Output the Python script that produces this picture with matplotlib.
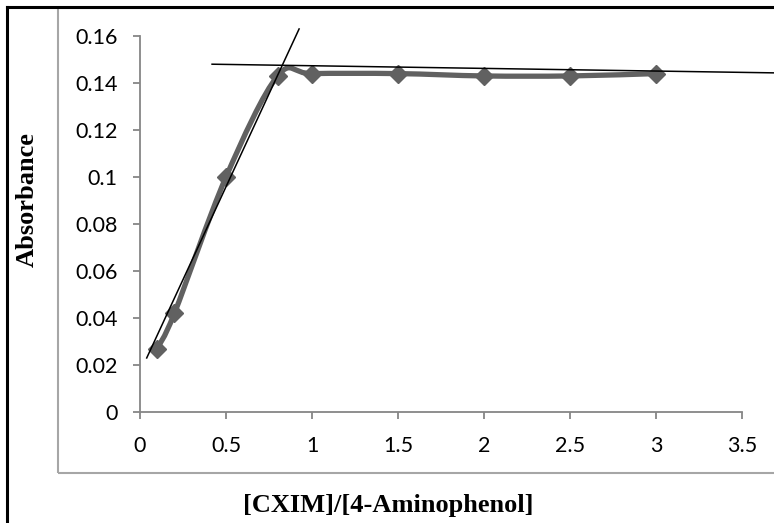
import numpy as np
import matplotlib
matplotlib.use("Agg")
import matplotlib.pyplot as plt
from matplotlib.path import Path
from matplotlib.patches import PathPatch, Rectangle
from matplotlib.lines import Line2D

# data
ratio = [0.1, 0.2, 0.5, 0.8, 1.0, 1.5, 2.0, 2.5, 3.0]
absorbance = [0.027, 0.042, 0.100, 0.143, 0.144, 0.144, 0.143, 0.143, 0.144]

# hand-drawn tangent lines (end points)
rise_x = [0.039, 0.925]
rise_y = [0.023, 0.163]
plateau_x = [0.419, 3.75]
plateau_y = [0.148, 0.14424]

xticks = [0, 0.5, 1, 1.5, 2, 2.5, 3, 3.5]
xticklabels = ["0", "0.5", "1", "1.5", "2", "2.5", "3", "3.5"]
yticks = [0, 0.02, 0.04, 0.06, 0.08, 0.1, 0.12, 0.14, 0.16]
yticklabels = ["0", "0.02", "0.04", "0.06", "0.08", "0.1", "0.12", "0.14", "0.16"]

W, H = 774, 523
fig = plt.figure(figsize=(W / 100, H / 100), dpi=100)
ax = fig.add_axes([140 / W, 1 - 412 / H, (742 - 140) / W, (412 - 36) / H])

axis_gray = "#868686"
series_gray = "#616161"


def smooth_path(xs, ys):
    # Excel-like smoothed line: cubic Bezier segments (Catmull-Rom control points)
    pts = np.column_stack([xs, ys])
    n = len(pts)
    verts = [pts[0]]
    codes = [Path.MOVETO]
    for i in range(n - 1):
        p0 = pts[i - 1] if i > 0 else pts[i]
        p1 = pts[i]
        p2 = pts[i + 1]
        p3 = pts[i + 2] if i + 2 < n else pts[i + 1]
        c1 = p1 + (p2 - p0) / 6.0
        c2 = p2 - (p3 - p1) / 6.0
        verts += [c1, c2, p2]
        codes += [Path.CURVE4] * 3
    return Path(verts, codes)


ax.add_patch(PathPatch(smooth_path(ratio, absorbance), facecolor="none",
                       edgecolor=series_gray, lw=3.8, capstyle="round",
                       joinstyle="round", zorder=3))
ax.plot(ratio, absorbance, linestyle="none", marker="D", markersize=9,
        color=series_gray, zorder=4)

ax.plot(rise_x, rise_y, color="black", lw=1.1, zorder=5, clip_on=False)
ax.plot(plateau_x, plateau_y, color="black", lw=1.1, zorder=5, clip_on=False)

ax.set_xlim(0, 3.5)
ax.set_ylim(0, 0.16)
ax.set_xticks(xticks)
ax.set_xticklabels(xticklabels)
ax.set_yticks(yticks)
ax.set_yticklabels(yticklabels)

for s in ["top", "right"]:
    ax.spines[s].set_visible(False)
for s in ["left", "bottom"]:
    ax.spines[s].set_color(axis_gray)
    ax.spines[s].set_linewidth(1.3)

ax.tick_params(axis="both", direction="out", length=5, width=1.3,
               color=axis_gray, labelsize=15.5, labelcolor="black")
ax.tick_params(axis="y", pad=11)
ax.tick_params(axis="x", pad=12)
for lab in ax.get_xticklabels() + ax.get_yticklabels():
    lab.set_fontfamily("Lato")

# axis titles
fig.text(27 / W, 1 - 200 / H, "Absorbance", rotation=90, ha="center",
         va="center", fontsize=19, fontweight="bold", family="Liberation Serif")
fig.text(388 / W, 1 - 512 / H, "[CXIM]/[4-Aminophenol]", ha="center",
         va="baseline", fontsize=19, fontweight="bold", family="Liberation Serif")

# inner gray chart-area frame
fig.add_artist(Rectangle((58 / W, 1 - 473 / H), 2.0, (473 - 8) / H,
                         transform=fig.transFigure, fill=False,
                         edgecolor="#a6a6a6", lw=1.5))
# outer black border (left and top edges visible)
fig.add_artist(Line2D([7 / W, 7 / W], [0, 1 - 7 / H], transform=fig.transFigure,
                      color="black", lw=2.2))
fig.add_artist(Line2D([7 / W, 1], [1 - 7 / H, 1 - 7 / H], transform=fig.transFigure,
                      color="black", lw=2.2))

fig.savefig("out.png", dpi=100)
